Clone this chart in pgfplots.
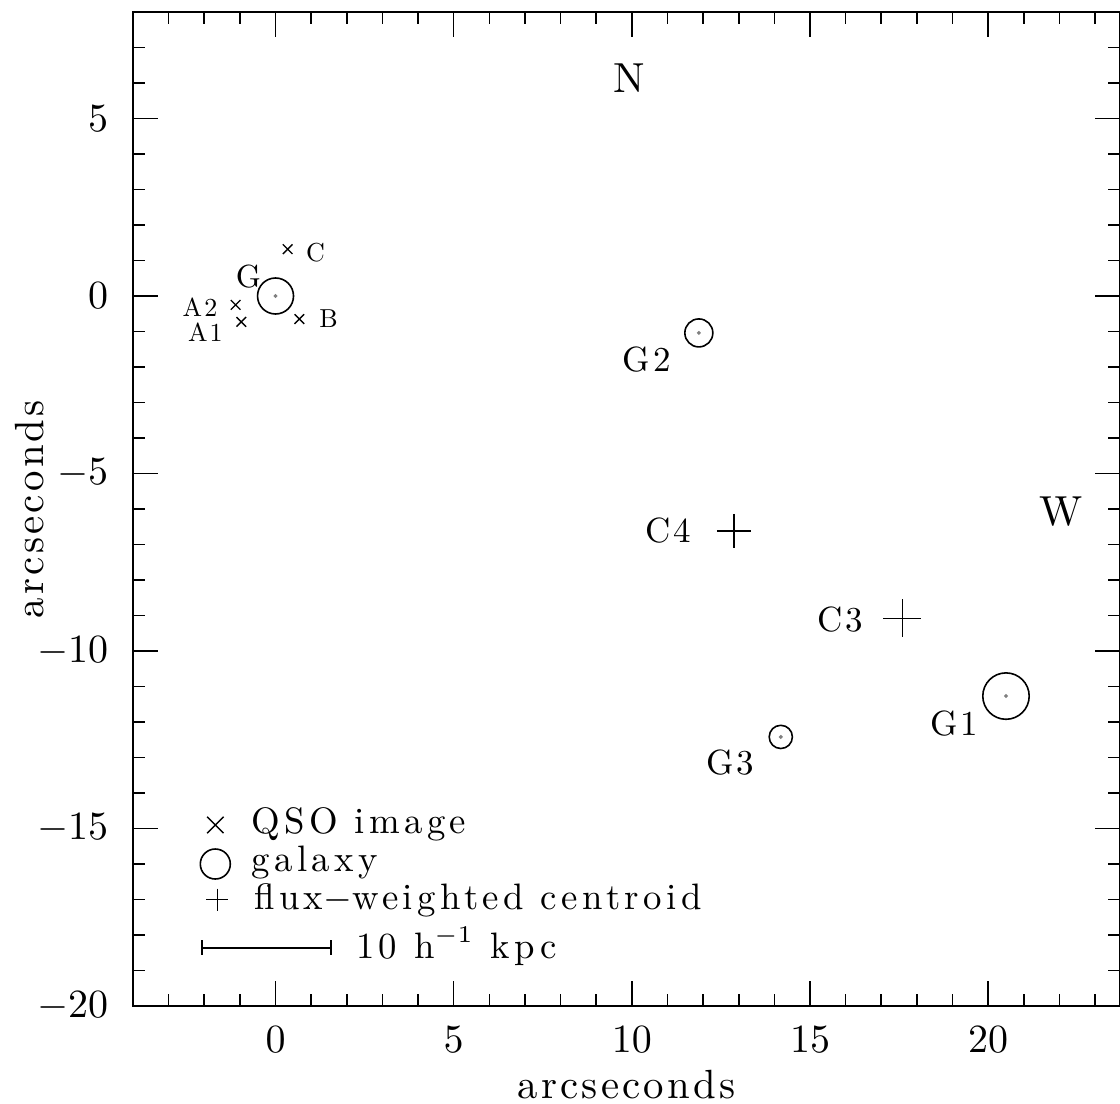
\documentclass[border=0pt]{standalone}
\usepackage{fontspec}
\setmainfont{lmroman10-regular.otf}[LetterSpace=8]
\usepackage{pgfplots}
\pgfplotsset{compat=1.18}

\newcommand{\fs}[1]{\fontsize{#1}{#1}\selectfont}
\newcommand{\keyfont}{\fs{9.2}\addfontfeatures{LetterSpace=12}}

\begin{document}
\begin{tikzpicture}
\begin{axis}[
    scale only axis,
    width=246.75pt, height=248.5pt,
    xmin=-4, xmax=23.7,
    ymin=-20, ymax=8,
    xtick={0,5,...,20},
    ytick={-20,-15,...,5},
    minor xtick={-3,...,23},
    minor ytick={-19,...,7},
    tick align=inside,
    tick pos=both,
    major tick length=6.25pt,
    minor tick length=3pt,
    axis line style={line width=0.45pt},
    every tick/.style={black, line width=0.4pt},
    tick label style={font=\fs{10}},
    xticklabel style={anchor=center, yshift=-8.5pt},
    yticklabel style={anchor=east, inner sep=0pt, xshift=-6pt},
    xlabel={arcseconds},
    ylabel={arcseconds},
    label style={font=\fs{10.2}},
    xlabel style={at={(axis description cs:0.5,0)}, anchor=center, yshift=-19.75pt},
    ylabel style={at={(axis description cs:0,0.5)}, anchor=center, yshift=25.75pt},
    clip=false,
]
\coordinate (ll) at (rel axis cs:0,0);
\coordinate (ur) at (rel axis cs:1,1);

% QSO images
\addplot[only marks, mark=x, mark size=1.7pt, line width=0.35pt]
    coordinates {(-1.12,-0.25)(-0.96,-0.73)(0.67,-0.65)(0.34,1.32)};

% galaxies
\addplot[only marks, mark=o, mark size=4.5pt, line width=0.4pt] coordinates {(0,0)};
\addplot[only marks, mark=o, mark size=3.5pt, line width=0.4pt] coordinates {(11.88,-1.04)};
\addplot[only marks, mark=o, mark size=2.9pt, line width=0.4pt] coordinates {(14.18,-12.42)};
\addplot[only marks, mark=o, mark size=5.8pt, line width=0.4pt] coordinates {(20.5,-11.27)};
\addplot[only marks, mark=*, mark size=0.25pt, gray]
    coordinates {(0,0)(11.88,-1.04)(14.18,-12.42)(20.5,-11.27)};

% flux-weighted centroids
\addplot[only marks, mark=+, mark size=4.3pt, line width=0.4pt] coordinates {(12.87,-6.62)};
\addplot[only marks, mark=+, mark size=4.75pt, line width=0.4pt] coordinates {(17.59,-9.08)};

% key
\addplot[only marks, mark=x, mark size=2.9pt, line width=0.35pt] coordinates {(-1.69,-14.9)};
\addplot[only marks, mark=o, mark size=3.75pt, line width=0.4pt] coordinates {(-1.69,-16.0)};
\addplot[only marks, mark=+, mark size=2.75pt, line width=0.4pt] coordinates {(-1.63,-17.0)};
\addplot[mark=|, mark size=1.9pt, line width=0.4pt] coordinates {(-2.07,-18.36)(1.56,-18.36)};

\node[anchor=base west, inner sep=0pt, font=\keyfont] at (axis cs:-0.70,-15.15) {QSO image};
\node[anchor=base west, inner sep=0pt, font=\keyfont] at (axis cs:-0.70,-16.22) {galaxy};
\node[anchor=base west, inner sep=0pt, font=\keyfont] at (axis cs:-0.62,-17.27) {flux$-$weighted centroid};
\node[anchor=base west, inner sep=0pt, font=\keyfont] at (axis cs:2.24,-18.65) {10 h$^{-1}$ kpc};

% labels
\node[font=\fs{6.5}] at (axis cs:-2.12,-0.31) {A2};
\node[font=\fs{6.5}] at (axis cs:-1.97,-1.03) {A1};
\node[font=\fs{6.5}] at (axis cs:1.49,-0.65) {B};
\node[font=\fs{6.5}] at (axis cs:1.12,1.22) {C};
\node[font=\fs{8}] at (axis cs:-0.76,0.56) {G};
\node[font=\fs{8.75}] at (axis cs:10.42,-1.80) {G2};
\node[font=\fs{8.75}] at (axis cs:12.77,-13.15) {G3};
\node[font=\fs{8.75}] at (axis cs:19.04,-12.03) {G1};
\node[font=\fs{8.75}] at (axis cs:11.01,-6.62) {C4};
\node[font=\fs{8.75}] at (axis cs:15.84,-9.12) {C3};
\node[font=\fs{10.5}] at (axis cs:9.94,6.14) {N};
\node[font=\fs{10.5}] at (axis cs:22.05,-6.06) {W};
\end{axis}
\pgfresetboundingbox
\path ([shift={(-33.25pt,-24.25pt)}]ll) rectangle ([shift={(0pt,3pt)}]ur);
\end{tikzpicture}
\end{document}
